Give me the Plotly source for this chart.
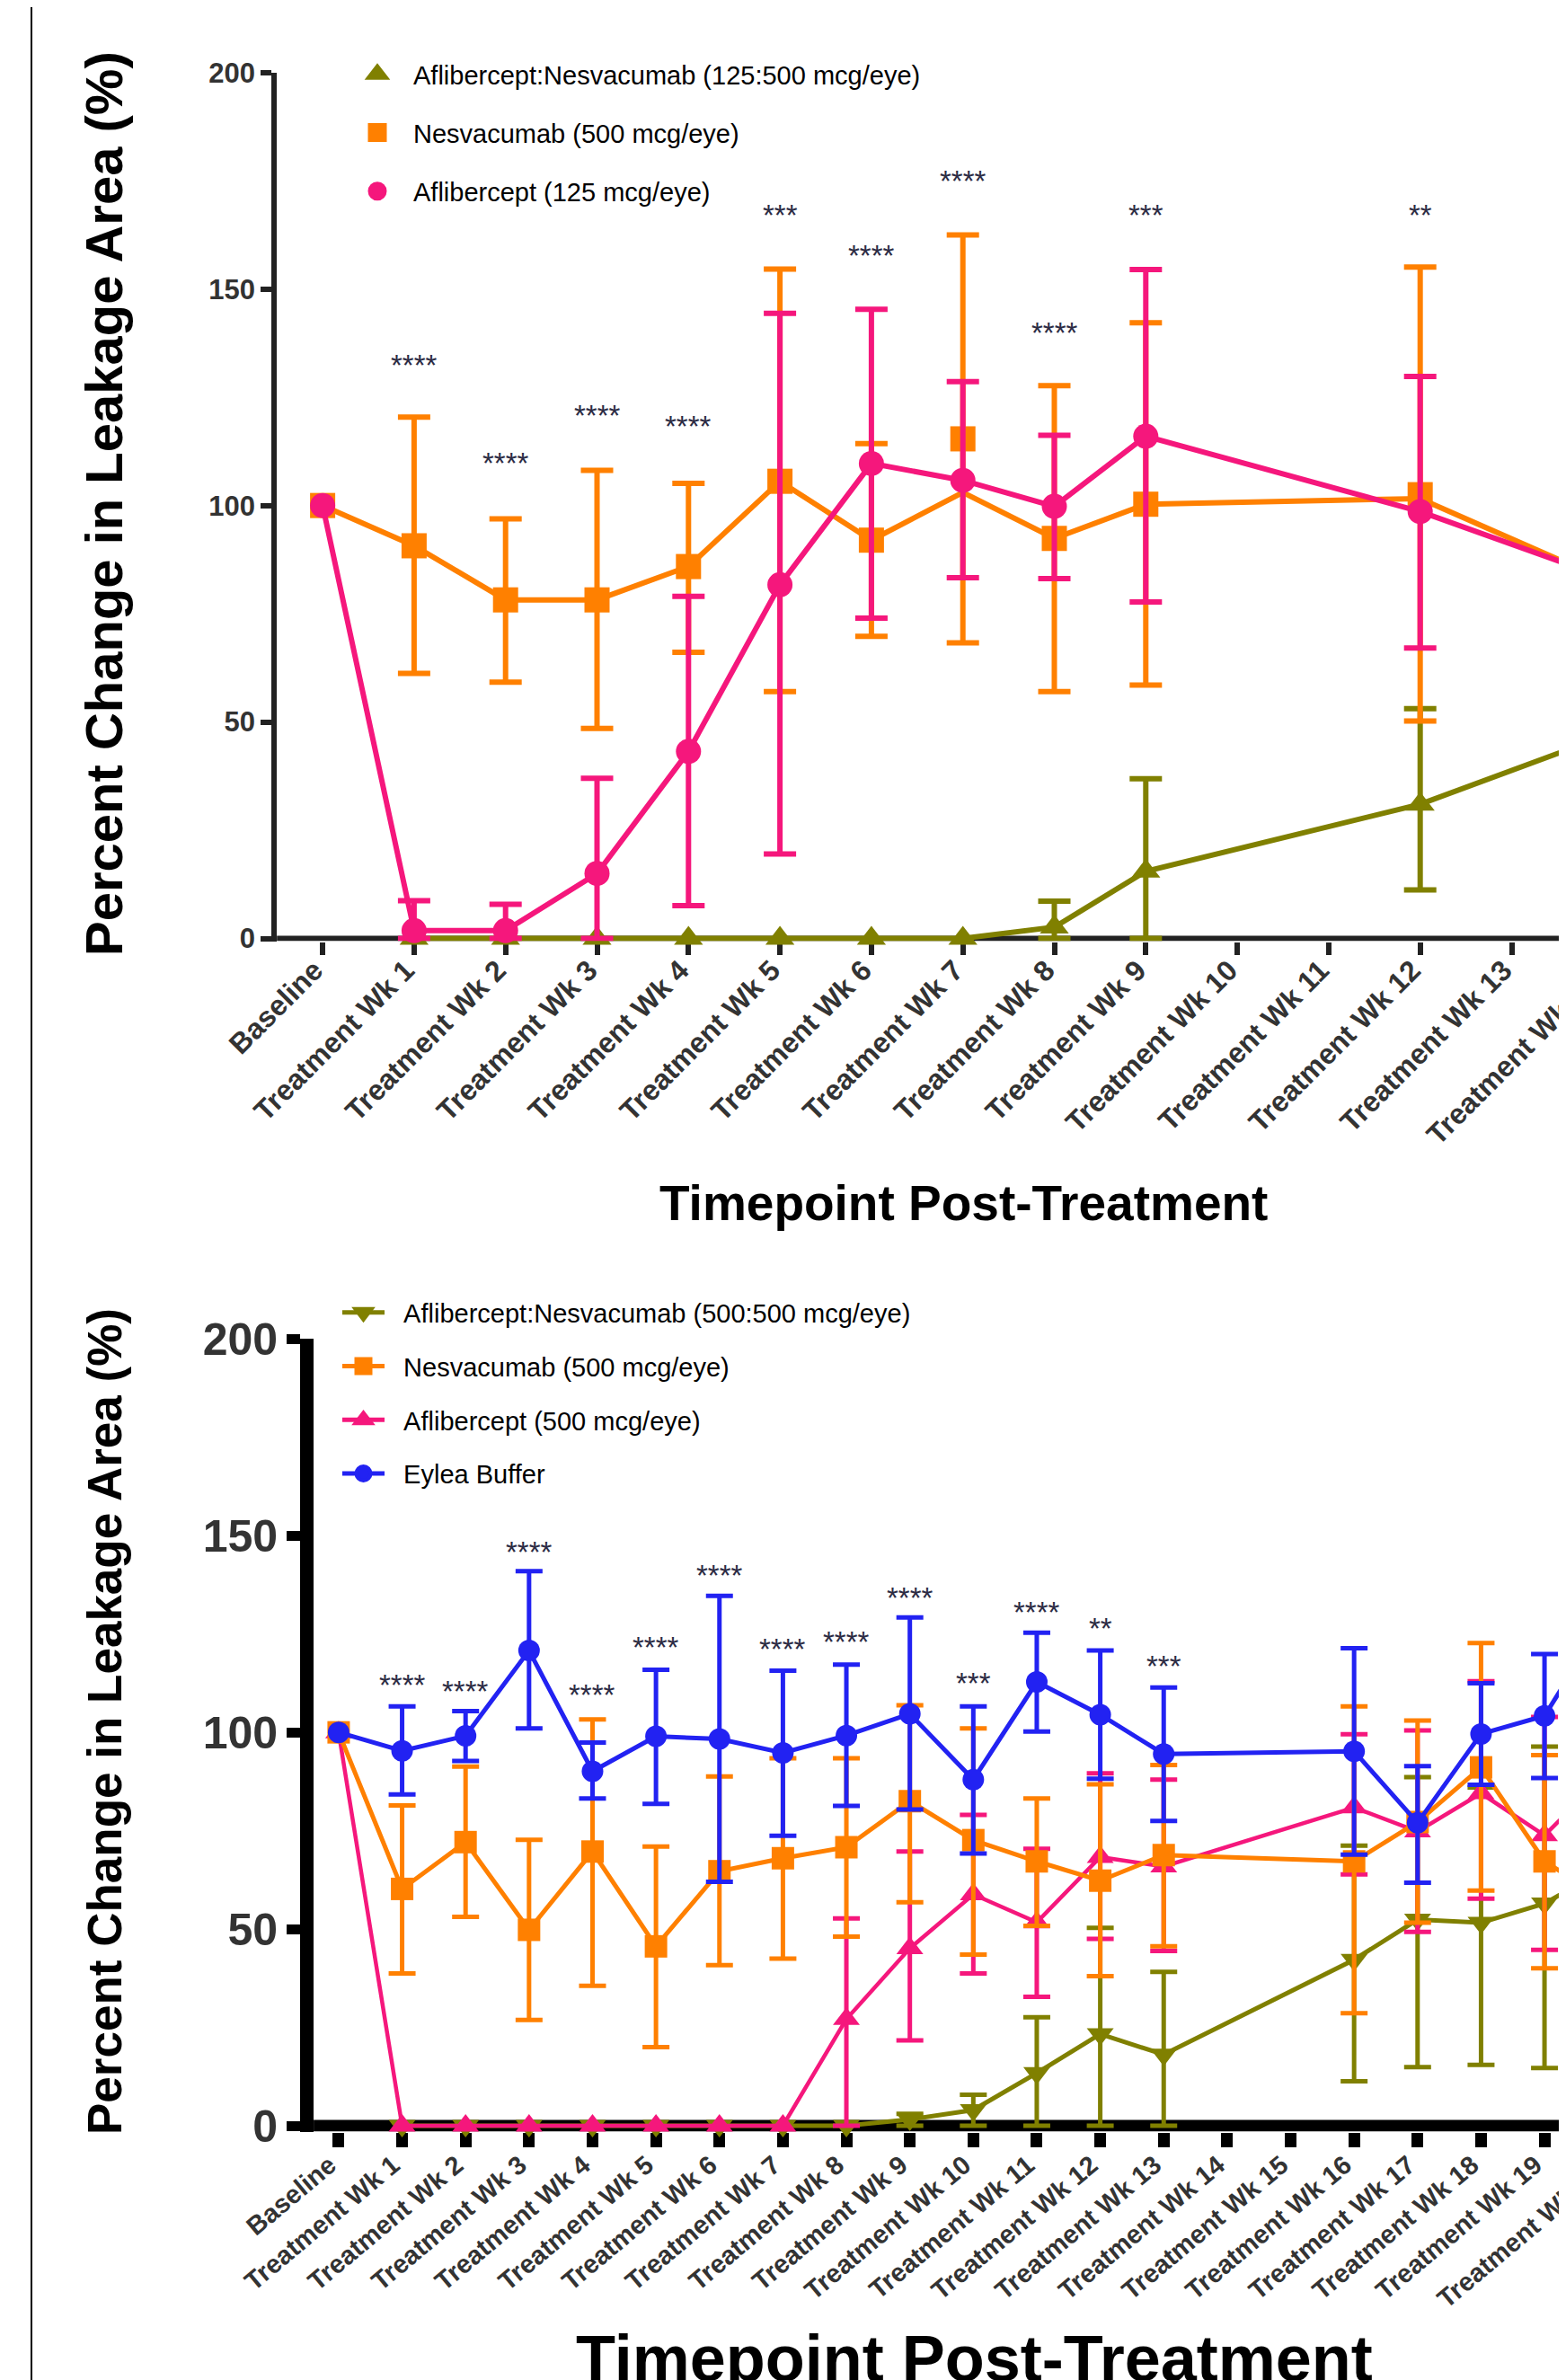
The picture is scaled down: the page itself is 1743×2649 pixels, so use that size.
import numpy as np
import plotly.graph_objects as go

FONT = "Liberation Sans, Arial, Helvetica, sans-serif"
W, H = 1743, 2649

OLIVE = "#808000"
ORANGE = "#FF8000"
PINK = "#F5177C"
BLUE = "#2222F2"
STAR = "#2C2C44"

# ---------------- Top panel data ----------------
top_labels = ["Baseline", "Treatment Wk 1", "Treatment Wk 2", "Treatment Wk 3", "Treatment Wk 4",
              "Treatment Wk 5", "Treatment Wk 6", "Treatment Wk 7", "Treatment Wk 8", "Treatment Wk 9",
              "Treatment Wk 10", "Treatment Wk 11", "Treatment Wk 12", "Treatment Wk 13", "Treatment Wk 14"]

top_combo_mean = [None, 0, 0, 0, 0, 0, 0, 0, 2.6, 15.5, None, None, 31.0, None, 46.6]
top_combo_up = [None, None, None, None, None, None, None, None, 6.0, 21.4, None, None, 22.1, None, 22.0]
top_combo_dn = [None, None, None, None, None, None, None, None, 2.6, 15.5, None, None, 19.8, None, 22.0]

top_nesva_mean = [100, 90.7, 78.2, 78.2, 85.9, 105.6, 92.0, 115.4, 92.4, 100.3, None, None, 102.5, None, 83.0]
top_nesva_line = [100, 90.7, 78.2, 78.2, 85.9, 105.6, 92.0, 103.0, 92.4, 100.3, None, None, 101.6, None, 83.0]
top_nesva_up = [None, 29.7, 18.7, 29.9, 19.2, 49.0, 22.3, 47.1, 35.3, 41.9, None, None, 52.6, None, 40.0]
top_nesva_dn = [None, 29.5, 19.0, 29.7, 19.8, 48.6, 22.2, 47.1, 35.4, 41.8, None, None, 52.3, None, 40.0]

top_afl_mean = [100, 1.8, 1.8, 15.0, 43.2, 81.7, 109.7, 105.8, 99.8, 116.0, None, None, 98.6, None, 83.5]
top_afl_up = [None, 6.9, 6.1, 22.0, 35.8, 62.7, 35.6, 22.8, 16.4, 38.5, None, None, 31.2, None, 30.0]
top_afl_dn = [None, 1.8, 1.8, 15.0, 35.6, 62.2, 35.7, 22.5, 16.7, 38.3, None, None, 31.5, None, 30.0]

top_star_text = [None, "****", "****", "****", "****", "***", "****", "****", "****", "***", None, None, "**", None, None]
top_star_y = [None, 131.7, 109.2, 120.2, 117.7, 166.5, 157.2, 174.4, 139.3, 166.5, None, None, 166.5, None, None]

# ---------------- Bottom panel data ----------------
bot_labels = ["Baseline", "Treatment Wk 1", "Treatment Wk 2", "Treatment Wk 3", "Treatment Wk 4",
              "Treatment Wk 5", "Treatment Wk 6", "Treatment Wk 7", "Treatment Wk 8", "Treatment Wk 9",
              "Treatment Wk 10", "Treatment Wk 11", "Treatment Wk 12", "Treatment Wk 13", "Treatment Wk 14",
              "Treatment Wk 15", "Treatment Wk 16", "Treatment Wk 17", "Treatment Wk 18", "Treatment Wk 19",
              "Treatment Wk 20"]

bot_combo_mean = [None, 0, 0, 0, 0, 0, 0, 0, 0, 1.6, 4.0, 13.4, 23.3, 18.1, None, None, 42.2, 52.4, 51.6, 56.5, 65.6]
bot_combo_up = [None, None, None, None, None, None, None, None, None, 1.4, 3.9, 14.2, 27.0, 21.0, None, None, 29.0, 36.2, 34.4, 39.9, 35.0]
bot_combo_dn = [None, None, None, None, None, None, None, None, None, 1.6, 4.0, 13.4, 23.3, 18.1, None, None, 30.9, 37.5, 36.1, 41.8, 35.0]

bot_nesva_mean = [100, 60.2, 72.1, 49.8, 69.7, 45.6, 64.7, 68.0, 70.8, 82.5, 72.6, 67.2, 62.3, 68.8, None, None, 67.2, 77.2, 91.1, 67.2, 57.0]
bot_nesva_up = [None, 21.2, 19.2, 22.9, 33.6, 25.4, 24.1, 25.4, 22.6, 24.4, 28.4, 16.0, 24.5, 22.9, None, None, 39.4, 25.8, 31.6, 27.0, 27.0]
bot_nesva_dn = [None, 21.5, 19.0, 22.9, 34.1, 25.6, 23.9, 25.5, 22.7, 25.7, 29.1, 16.4, 24.3, 23.2, None, None, 38.6, 25.6, 31.3, 27.2, 27.0]

bot_afl_mean = [100, 0, 0, 0, 0, 0, 0, 0, 27.1, 45.1, 58.8, 51.7, 68.3, 65.9, None, None, 80.9, 74.8, 84.5, 73.8, 90.0]
bot_afl_up = [None, None, None, None, None, None, None, None, 25.6, 24.6, 20.2, 18.7, 21.3, 22.1, None, None, 18.6, 25.7, 28.5, 30.1, 28.0]
bot_afl_dn = [None, None, None, None, None, None, None, None, 27.1, 23.4, 20.1, 18.9, 20.8, 21.5, None, None, 17.0, 25.5, 26.8, 29.1, 28.0]

bot_buf_mean = [100, 95.3, 99.1, 120.8, 90.1, 99.0, 98.3, 94.8, 99.2, 104.7, 88.0, 112.8, 104.5, 94.5, None, None, 95.2, 77.0, 99.6, 104.2, 130.0]
bot_buf_up = [None, 11.3, 6.3, 20.2, 7.3, 16.9, 36.4, 20.9, 18.0, 24.5, 18.6, 12.5, 16.3, 16.9, None, None, 26.2, 14.4, 12.9, 15.7, 15.0]
bot_buf_dn = [None, 11.1, 6.4, 19.8, 6.9, 17.2, 36.3, 21.1, 17.9, 24.3, 18.8, 12.6, 16.3, 17.0, None, None, 26.3, 15.2, 12.9, 15.8, 15.0]

bot_star_text = [None, "****", "****", "****", "****", "****", "****", "****", "****", "****", "***", "****", "**", "***"]
bot_star_y = [None, 111.3, 109.7, 145.1, 108.8, 121.0, 139.2, 120.4, 122.2, 133.6, 111.7, 129.9, 125.7, 116.2]

# ---------------- geometry (pixels) ----------------
TOP_PLOT_LEFT, TOP_SPACING = 300.2, 101.8
TOP_Y200, TOP_Y0, TOP_ZLW = 72.8, 1036.5, 6
BOT_LINE_CENTER, BOT_SPACING, BOT_YLW = 333.6, 70.64, 15
BOT_Y200, BOT_Y0, BOT_ZLW = 1482.3, 2358.0, 13

top_ppu = (TOP_Y0 - TOP_Y200) / 200.0
bot_ppu = (BOT_Y0 - BOT_Y200) / 200.0
top_ymin = -(TOP_ZLW / 2) / top_ppu
bot_ymin = -(BOT_ZLW / 2) / bot_ppu
top_xrange = [-0.5, -0.5 + (W - TOP_PLOT_LEFT) / TOP_SPACING]
bot_left = BOT_LINE_CENTER + BOT_YLW / 2
bot_xmin = -0.5 + (BOT_YLW / 2) / BOT_SPACING
bot_xrange = [bot_xmin, bot_xmin + (W - bot_left) / BOT_SPACING]


def arr(v):
    return np.array([np.nan if a is None else a for a in v], dtype=float)


fig = go.Figure()


def series(x, y, up, dn, color, symbol, size, lw, ebt, ebw, xa, ya, mode="lines+markers"):
    fig.add_trace(go.Scatter(
        x=x, y=y, mode=mode, connectgaps=True, showlegend=False, cliponaxis=False,
        xaxis=xa, yaxis=ya, hoverinfo="skip",
        line=dict(color=color, width=lw),
        marker=dict(symbol=symbol, size=size, color=color, line=dict(width=0)),
        error_y=dict(type="data", symmetric=False, array=arr(up), arrayminus=arr(dn),
                     color=color, thickness=ebt, width=ebw) if up is not None else None,
    ))


xt = list(range(len(top_labels)))
xb = list(range(len(bot_labels)))

# top panel traces (draw order: olive, orange, pink)
series(xt, top_combo_mean, top_combo_up, top_combo_dn, OLIVE, "triangle-up", 28, 6, 6, 18, "x", "y")
series(xt, top_nesva_line, None, None, ORANGE, "square", 28, 6, 6, 18, "x", "y", mode="lines")
series(xt, top_nesva_mean, top_nesva_up, top_nesva_dn, ORANGE, "square", 28, 6, 6, 18, "x", "y", mode="markers")
series(xt, top_afl_mean, top_afl_up, top_afl_dn, PINK, "circle", 28, 6, 6, 18, "x", "y")

# bottom panel traces (olive, pink, orange, blue)
series(xb, bot_combo_mean, bot_combo_up, bot_combo_dn, OLIVE, "triangle-down", 26, 5, 5, 15, "x2", "y2")
series(xb, bot_afl_mean, bot_afl_up, bot_afl_dn, PINK, "triangle-up", 26, 4.5, 5, 15, "x2", "y2")
series(xb, bot_nesva_mean, bot_nesva_up, bot_nesva_dn, ORANGE, "square", 25, 5, 5, 15, "x2", "y2")
series(xb, bot_buf_mean, bot_buf_up, bot_buf_dn, BLUE, "circle", 24, 5, 5, 15, "x2", "y2")

# legend keys
top_legend = [("Aflibercept:Nesvacumab (125:500 mcg/eye)", OLIVE, "triangle-up"),
              ("Nesvacumab (500 mcg/eye)", ORANGE, "square"),
              ("Aflibercept (125 mcg/eye)", PINK, "circle")]
for i, (name, c, s) in enumerate(top_legend):
    fig.add_trace(go.Scatter(x=[None], y=[None], mode="markers", name=name, legend="legend",
                             legendgroup="t%d" % i, xaxis="x", yaxis="y",
                             marker=dict(symbol=s, size=16, color=c, line=dict(color=c, width=5))))

NB = "\u00a0\u00a0"
bot_legend = [("Aflibercept:Nesvacumab (500:500 mcg/eye)", OLIVE, "triangle-down"),
              ("Nesvacumab (500 mcg/eye)", ORANGE, "square"),
              ("Aflibercept (500 mcg/eye)", PINK, "triangle-up"),
              ("Eylea Buffer", BLUE, "circle")]
for i, (name, c, s) in enumerate(bot_legend):
    fig.add_trace(go.Scatter(x=[None], y=[None], mode="lines+markers", name=NB + name, legend="legend2",
                             legendgroup="b%d" % i, xaxis="x2", yaxis="y2",
                             line=dict(color=c, width=5),
                             marker=dict(symbol=s, size=16, color=c, line=dict(color=c, width=4))))

annotations = []
STAR_SHIFT_PX = 3
for i, (t, yv) in enumerate(zip(top_star_text, top_star_y)):
    if t:
        annotations.append(dict(x=i, y=yv + STAR_SHIFT_PX / top_ppu, xref="x", yref="y", text=t, showarrow=False,
                                font=dict(size=33, color=STAR, family=FONT), xanchor="center", yanchor="middle"))
for i, (t, yv) in enumerate(zip(bot_star_text, bot_star_y)):
    if t:
        annotations.append(dict(x=i, y=yv + STAR_SHIFT_PX / bot_ppu, xref="x2", yref="y2", text=t, showarrow=False,
                                font=dict(size=33, color=STAR, family=FONT), xanchor="center", yanchor="middle"))


def ann_px(text, xpx, ypx, size, angle=0):
    annotations.append(dict(x=xpx / W, y=1 - ypx / H, xref="paper", yref="paper", text=text,
                            showarrow=False, textangle=angle, xanchor="center", yanchor="middle",
                            font=dict(size=size, color="black", family=FONT, weight="bold")))


ann_px("Percent Change in Leakage Area (%)", 107, 553, 58, -90)
ann_px("Timepoint Post-Treatment", 1064, 1331, 55)
ann_px("Percent Change in Leakage Area (%)", 108, 1908, 53, -90)
ann_px("Timepoint Post-Treatment", 1076, 2617, 72)


# category labels whose tick falls just past the right edge of the page (only partly visible)
def edge_label(labels, xrange, left_px, angle, size, dx, top_px):
    for i, lab in enumerate(labels):
        if i > xrange[1]:
            px = left_px + (i - xrange[0]) / (xrange[1] - xrange[0]) * (W - left_px)
            annotations.append(dict(x=(px + dx) / W, y=1 - top_px / H, xref="paper", yref="paper",
                                    text=lab, showarrow=False, textangle=angle,
                                    xanchor="right", yanchor="top",
                                    font=dict(size=size, color="#333333", family=FONT, weight="bold")))


edge_label(top_labels, top_xrange, TOP_PLOT_LEFT, -45, 32, 5, 1064)
edge_label(bot_labels, bot_xrange, bot_left, -40, 29, 3, 2392)

shapes = [
    # page border on the left
    dict(type="line", xref="paper", yref="paper", x0=27 / W, x1=27 / W, y0=0, y1=1,
         line=dict(color="black", width=2)),
    # x-axis baselines at y = 0 (drawn beneath the data)
    dict(type="line", xref="x domain", yref="y", x0=0, x1=1, y0=0, y1=0, layer="below",
         line=dict(color="#222222", width=TOP_ZLW)),
    dict(type="line", xref="x2 domain", yref="y2", x0=0, x1=1, y0=0, y1=0, layer="below",
         line=dict(color="black", width=BOT_ZLW)),
]

fig.update_layout(
    width=W, height=H, autosize=False, template="none",
    margin=dict(l=0, r=0, t=0, b=0, pad=0),
    paper_bgcolor="white", plot_bgcolor="rgba(0,0,0,0)",
    font=dict(family=FONT, color="black"),
    annotations=annotations,
    shapes=shapes,
    xaxis=dict(domain=[TOP_PLOT_LEFT / W, 1], range=top_xrange, anchor="y",
               tickmode="array", tickvals=xt, ticktext=top_labels, tickangle=-45,
               ticks="outside", ticklen=14, tickwidth=6, tickcolor="#222222",
               ticklabelstandoff=-14, ticklabelshift=-9, layer="below traces",
               showline=False, showgrid=False, zeroline=False,
               tickfont=dict(size=32, color="#333333", family=FONT, weight="bold")),
    yaxis=dict(domain=[1 - (TOP_Y0 + TOP_ZLW / 2) / H, 1 - TOP_Y200 / H], range=[top_ymin, 200], anchor="x",
               tickmode="array", tickvals=[0, 50, 100, 150, 200],
               ticks="outside", ticklen=12, tickwidth=6, tickcolor="#222222",
               showline=True, linewidth=6, linecolor="#222222", layer="below traces",
               zeroline=False, showgrid=False,
               tickfont=dict(size=31, color="#333333", family=FONT, weight="bold")),
    xaxis2=dict(domain=[bot_left / W, 1], range=bot_xrange, anchor="y2",
                tickmode="array", tickvals=xb, ticktext=bot_labels, tickangle=-40,
                ticks="outside", ticklen=16, tickwidth=13, tickcolor="black",
                ticklabelstandoff=-8, ticklabelshift=-10, layer="below traces",
                showline=False, showgrid=False, zeroline=False,
                tickfont=dict(size=29, color="#333333", family=FONT, weight="bold")),
    yaxis2=dict(domain=[1 - (BOT_Y0 + BOT_ZLW / 2) / H, 1 - BOT_Y200 / H], range=[bot_ymin, 200], anchor="x2",
                tickmode="array", tickvals=[0, 50, 100, 150, 200],
                ticks="outside", ticklen=15, tickwidth=11, tickcolor="black",
                showline=True, linewidth=BOT_YLW, linecolor="black", layer="below traces",
                zeroline=False, showgrid=False,
                tickfont=dict(size=50, color="#333333", family=FONT, weight="bold")),
    legend=dict(x=372 / W, y=1 - 49 / H, xanchor="left", yanchor="top", bgcolor="rgba(0,0,0,0)",
                borderwidth=0, itemwidth=70, tracegroupgap=24.5, traceorder="grouped",
                font=dict(size=29, color="black", family=FONT)),
    legend2=dict(x=368 / W, y=1 - 1427.5 / H, xanchor="left", yanchor="top", bgcolor="rgba(0,0,0,0)",
                 borderwidth=0, itemwidth=47, tracegroupgap=19, traceorder="grouped",
                 font=dict(size=29, color="black", family=FONT)),
    hovermode=False,
)

fig.write_html("out.html")
